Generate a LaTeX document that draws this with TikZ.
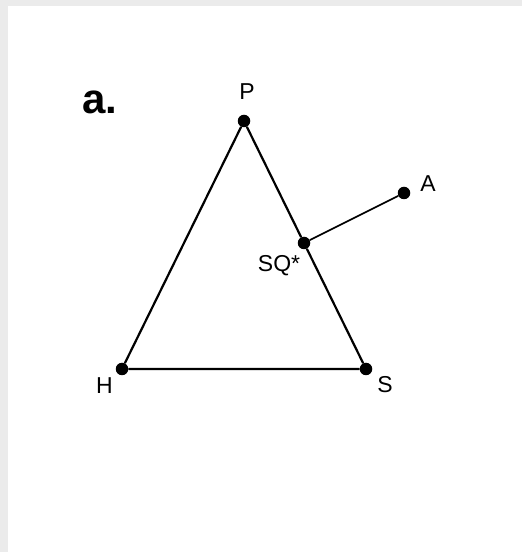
\documentclass[tikz,border=0pt]{standalone}
\usepackage{fontspec}
\setmainfont{Liberation Sans}
\usetikzlibrary{positioning}
\tikzset{
  pt/.style={circle,fill=black,inner sep=0pt,minimum size=12.5pt},
  lbl/.style={font=\fontsize{23}{23}\selectfont,inner sep=0pt},
  edge/.style={line width=2.2pt},
}
\begin{document}
\begin{tikzpicture}[x=1pt,y=1pt]
 \fill[black!8] (0,0) rectangle (522,552);
 \fill[white] (8,0) rectangle (522,546);
 \useasboundingbox (0,0) rectangle (522,552);
 % vertices
 \node[pt] (P) at (244,431) {};
 \node[pt] (H) at (122,183) {};
 \node[pt] (S) at (366,183) {};
 \node[pt] (SQ) at (304,309) {};
 \node[pt] (A) at (404,359) {};
 \draw[edge] (P)--(H)--(S)--(SQ)--(P); \draw[edge,line width=1.7pt] (SQ)--(A);
 % labels
 \node[lbl] (tP) at (247,460) {P};
 \node[lbl] (tA) at (428,368) {A};
 \node[lbl] (tSQ) at (279,286) {SQ*};
 \node[lbl] (tH) at (104.5,166.5) {H};
 \node[lbl] (tS) at (385,167) {S};
 \node[font=\fontsize{42}{42}\bfseries,inner sep=0pt] (ta) at (100,450) {a.};
\end{tikzpicture}
\end{document}
